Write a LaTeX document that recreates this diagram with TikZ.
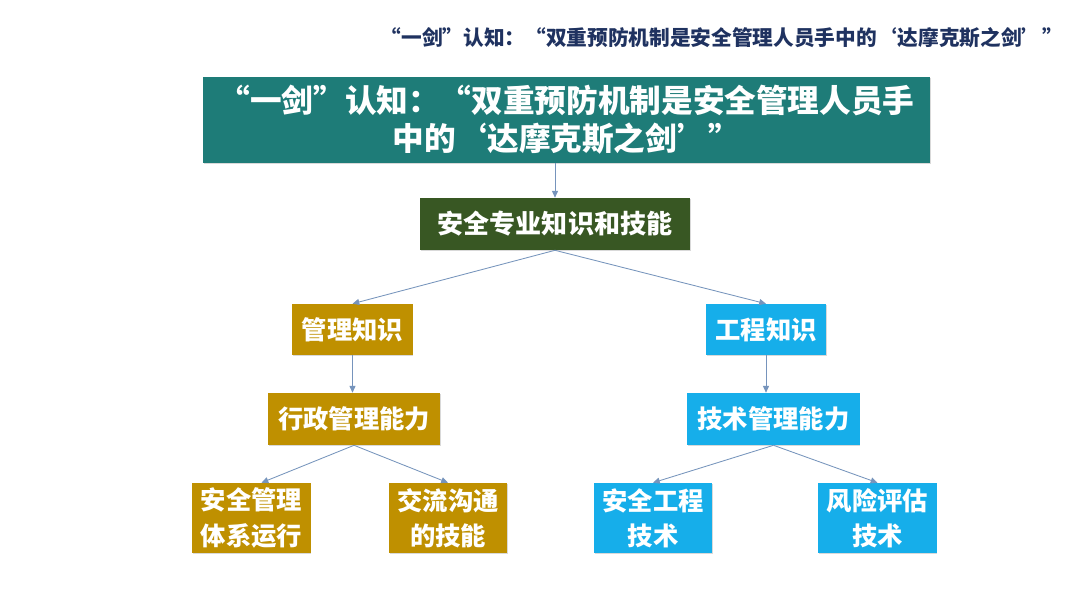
\documentclass[tikz,border=0pt]{standalone}
\usepackage{fontspec}
\newfontfamily\cjk{Noto Sans CJK SC}
\usetikzlibrary{arrows.meta,shadows}
\definecolor{swordteal}{RGB}{30,124,120}
\definecolor{swordgreen}{RGB}{56,87,35}
\definecolor{swordgold}{RGB}{191,144,0}
\definecolor{swordcyan}{RGB}{22,174,234}
\definecolor{swordnavy}{RGB}{31,50,96}
\definecolor{swordline}{RGB}{118,148,188}
\tikzset{
  sbox/.style   ={rectangle, inner sep=2pt, text=white, align=center,
                  font=\cjk\bfseries\fontsize{18}{25}\selectfont,
                  drop shadow={shadow xshift=0.6pt, shadow yshift=-0.8pt,
                               fill=black, opacity=0.15}},
  sroot/.style  ={sbox, fill=swordteal, minimum width=18.175cm, minimum height=2.15cm,
                  font=\cjk\bfseries\fontsize{22.5}{27}\selectfont},
  sskill/.style ={sbox, fill=swordgreen, minimum width=6.75cm, minimum height=1.3cm,
                  font=\cjk\bfseries\fontsize{18.5}{25}\selectfont},
  smgmt/.style  ={sbox, fill=swordgold},
  seng/.style   ={sbox, fill=swordcyan},
  sknow/.style  ={minimum width=3cm, minimum height=1.275cm},
  sabil/.style  ={minimum width=4.3cm, minimum height=1.3cm},
  sleaf/.style  ={minimum width=2.95cm, minimum height=1.75cm},
  slink/.style  ={-{Triangle[length=1.7mm, width=1.5mm]}, line width=0.6pt, swordline},
}
\begin{document}
\begin{tikzpicture}[x=0.025cm, y=-0.025cm]
  \fill[white] (0,0) rectangle (1080,608);
  \useasboundingbox (0,0) rectangle (1080,608);

  % --- the slide title ----------------------------------------------------
  \node[anchor=east, font=\cjk\bfseries\fontsize{14.7}{17}\selectfont, text=swordnavy]
    (header) at (1068,38)
    {“一剑”认知：“双重预防机制是安全管理人员手中的‘达摩克斯之剑’”};

  % --- the tree ------------------------------------------------------------
  \node[sroot] (root) at (566.5,120)
    {“一剑”认知：“双重预防机制是安全管理人员手\\中的‘达摩克斯之剑’”};
  \node[sskill] (skill) at (555,224) {安全专业知识和技能};

  \node[smgmt, sknow] (mgmtknow) at (352.5,329.5) {管理知识};
  \node[seng,  sknow] (engknow)  at (766,329.5)   {工程知识};

  \node[smgmt, sabil] (mgmtabil) at (354,419)   {行政管理能力};
  \node[seng,  sabil] (engabil)  at (773.5,419) {技术管理能力};

  \node[smgmt, sleaf] (mgmtsys)  at (251.5,518) {安全管理\\体系运行};
  \node[smgmt, sleaf] (mgmtcomm) at (448,518)   {交流沟通\\的技能};
  \node[seng,  sleaf] (engsafe)  at (653,518)   {安全工程\\技术};
  \node[seng,  sleaf] (engrisk)  at (877.5,518) {风险评估\\技术};

  % --- connectors ----------------------------------------------------------
  \draw[slink] (skill.north |- root.south) -- (skill.north);
  \draw[slink] (skill.south) -- (mgmtknow.north);
  \draw[slink] (skill.south) -- (engknow.north);
  \draw[slink] (mgmtknow.south) -- (mgmtknow.south |- mgmtabil.north);
  \draw[slink] (engknow.south) -- (engknow.south |- engabil.north);
  \draw[slink] (mgmtabil.south) -- ([xshift=0.25cm]mgmtsys.north);
  \draw[slink] (mgmtabil.south) -- (mgmtcomm.north);
  \draw[slink] (engabil.south) -- (engsafe.north);
  \draw[slink] (engabil.south) -- (engrisk.north);
\end{tikzpicture}
\end{document}
